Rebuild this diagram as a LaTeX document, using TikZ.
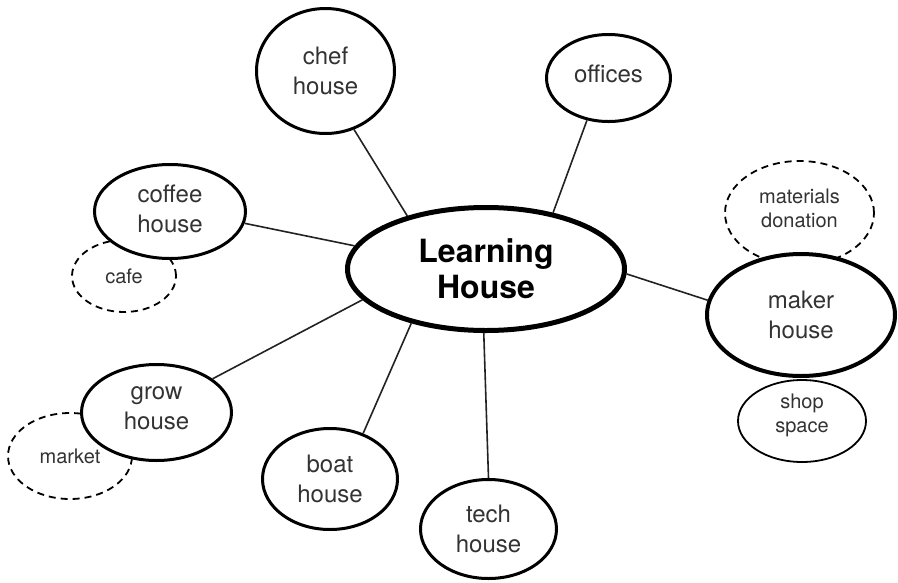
\documentclass[tikz,border=0pt]{standalone}
\usepackage{fontspec}
\setmainfont{TeX Gyre Heros}
\usetikzlibrary{shapes.geometric}
\definecolor{txt}{HTML}{333333}
\definecolor{edgec}{HTML}{222222}
\tikzset{
  bub/.style={ellipse, draw=black, fill=white, line width=3pt, inner sep=0pt,
    align=center, text=txt, font=\fontsize{24}{30}\selectfont},
  dbub/.style={ellipse, draw=black, fill=white, line width=1.8pt, inner sep=0pt,
    dash pattern=on 7pt off 5pt, align=center, text=txt, font=\fontsize{20}{24}\selectfont},
  sbub/.style={ellipse, draw=black, fill=white, line width=1.8pt, inner sep=0pt,
    align=center, text=txt, font=\fontsize{20}{24}\selectfont},
  conn/.style={draw=edgec, line width=1.6pt},
  sz/.style 2 args={minimum width=#1pt, minimum height=#2pt}
}
\begin{document}
\begin{tikzpicture}[x=1pt,y=-1pt]
\useasboundingbox (0,0) rectangle (898,582);
% dashed / secondary bubbles (under main ones)
\node[dbub, sz={104}{72}] (cafe) at (124,276) {cafe};
\node[dbub, sz={124}{86}] (market) at (70,456) {market};
\node[dbub, sz={149}{104}, text depth=9pt] (materials) at (799.5,213) {materials\\donation};
\node[sbub, sz={128}{82}, text depth=15pt] (shop) at (802,421) {shop\\space};
% main bubbles
\node[bub, sz={138}{125}] (chef) at (325.5,71) {chef\\house};
\node[bub, sz={124}{87}, text depth=9pt] (offices) at (608.5,78) {offices};
\node[bub, sz={151}{94}, text depth=5pt] (coffee) at (170,211.5) {coffee\\house};
\node[bub, sz={150}{96}, text depth=8pt] (grow) at (156.5,412.5) {grow\\house};
\node[bub, sz={135}{101}] (boat) at (330,479) {boat\\house};
\node[bub, sz={136}{99}] (tech) at (488.5,529) {tech\\house};
\node[bub, sz={188}{122}, line width=4pt] (maker) at (801,315) {maker\\house};
\node[bub, sz={277}{123}, line width=5pt, text=black,
  font=\bfseries\fontsize{32}{36}\selectfont] (learn) at (486,269) {Learning\\House};
% connectors
\draw[conn] (chef.296) -- (learn.146.5);
\draw[conn] (offices.243) -- (learn.40);
\draw[conn] (coffee.351.5) -- (learn.170.7);
\draw[conn] (grow.31.4) -- (learn.194.5);
\draw[conn] (boat.54) -- (learn.216.8);
\draw[conn] (tech.90) -- (learn.268);
\draw[conn] (maker.171) -- (learn.358.4);
\end{tikzpicture}
\end{document}
